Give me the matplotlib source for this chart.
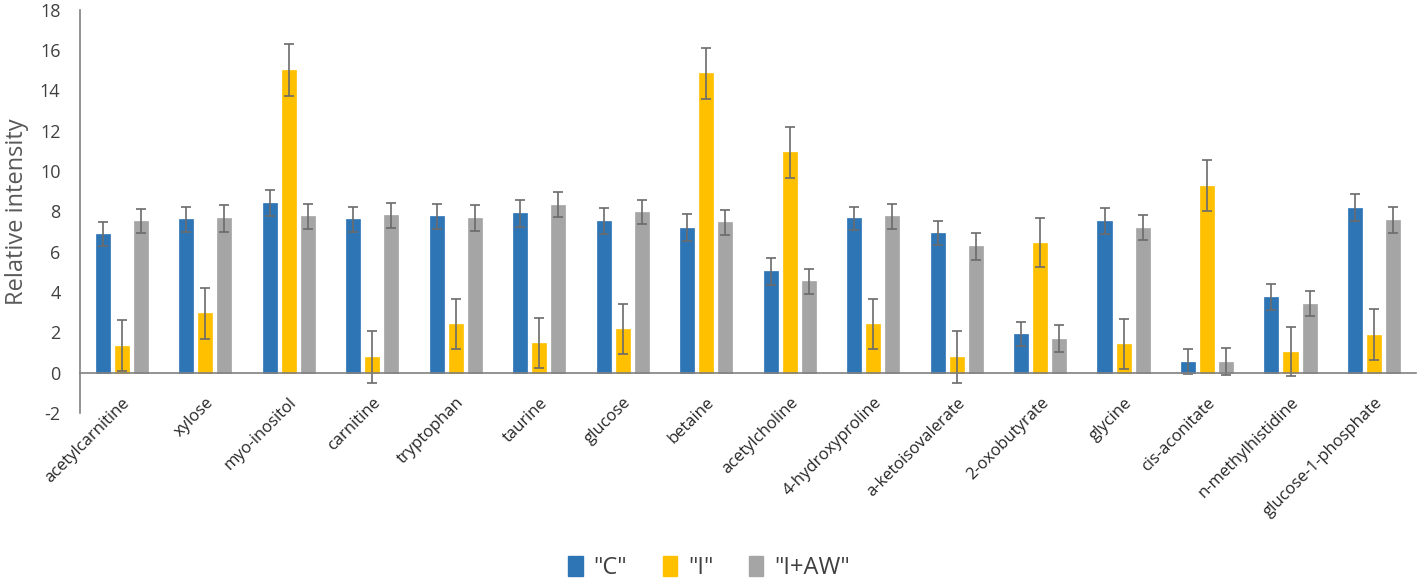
import matplotlib.pyplot as plt
from matplotlib.patches import Patch
from matplotlib.transforms import ScaledTranslation
import numpy as np

plt.rcParams['font.family'] = ['Open Sans', 'DejaVu Sans']
plt.rcParams['axes.unicode_minus'] = False

metabolites = ["acetylcarnitine", "xylose", "myo-inositol", "carnitine", "tryptophan",
               "taurine", "glucose", "betaine", "acetylcholine", "4-hydroxyproline",
               "a-ketoisovalerate", "2-oxobutyrate", "glycine", "cis-aconitate",
               "n-methylhistidine", "glucose-1-phosphate"]

c_vals = [6.89, 7.60, 8.41, 7.60, 7.75, 7.91, 7.53, 7.20, 5.02, 7.65, 6.93, 1.91, 7.53, 0.55, 3.77, 8.18]
c_err = [0.60, 0.60, 0.65, 0.60, 0.60, 0.66, 0.65, 0.66, 0.67, 0.58, 0.60, 0.60, 0.65, 0.60, 0.65, 0.66]

i_vals = [1.34, 2.95, 15.02, 0.77, 2.41, 1.48, 2.17, 14.86, 10.93, 2.41, 0.77, 6.45, 1.43, 9.27, 1.04, 1.88]
i_err = [1.28, 1.26, 1.30, 1.30, 1.25, 1.23, 1.25, 1.26, 1.26, 1.25, 1.30, 1.23, 1.23, 1.26, 1.23, 1.27]

iaw_vals = [7.53, 7.65, 7.75, 7.81, 7.68, 8.34, 7.98, 7.45, 4.53, 7.75, 6.27, 1.68, 7.20, 0.55, 3.43, 7.58]
iaw_err = [0.60, 0.65, 0.60, 0.62, 0.63, 0.62, 0.60, 0.63, 0.62, 0.60, 0.68, 0.66, 0.60, 0.65, 0.60, 0.65]

series = [('"C"', c_vals, c_err, '#2E75B6'),
          ('"I"', i_vals, i_err, '#FFC000'),
          ('"I+AW"', iaw_vals, iaw_err, '#A5A5A5')]

fig = plt.figure(figsize=(14.18, 5.8), dpi=100)
ax = fig.add_axes([0.0564, 0.288, 0.942, 0.695])

x = np.arange(len(metabolites))
step = 0.228
width = 0.168
for k, (name, vals, err, col) in enumerate(series):
    ax.bar(x + (k - 1) * step, vals, width, color=col, edgecolor=col, linewidth=0.5,
           yerr=err, ecolor='#6b6b6b', capsize=3.5,
           error_kw=dict(elinewidth=1.2, capthick=1.2), zorder=2)

ax.set_xlim(-0.5, len(metabolites) - 0.5)
ax.set_ylim(-2, 18)
ax.set_yticks(np.arange(-2, 19, 2))
ax.tick_params(axis='y', length=0, labelsize=13, labelcolor='#404040', pad=14)

ax.spines['top'].set_visible(False)
ax.spines['right'].set_visible(False)
ax.spines['bottom'].set_position(('data', 0))
ax.spines['bottom'].set_color('#808080')
ax.spines['bottom'].set_linewidth(1.2)
ax.spines['left'].set_color('#808080')
ax.spines['left'].set_linewidth(1.2)

ax.set_xticks(x)
ax.set_xticklabels(metabolites, rotation=45, ha='right', va='center',
                   rotation_mode='anchor', fontsize=12, color='#262626')
ax.tick_params(axis='x', length=0, pad=20)
shift = ScaledTranslation(6 / 100, 0, fig.dpi_scale_trans)
for lbl in ax.get_xticklabels():
    lbl.set_transform(lbl.get_transform() + shift)

ax.set_ylabel("Relative intensity", fontsize=17, color='#595959', labelpad=8)

handles = [Patch(facecolor=s[3], edgecolor=s[3]) for s in series]
fig.legend(handles, [s[0] for s in series], loc='center', bbox_to_anchor=(0.5, 0.02),
           ncol=3, frameon=False, fontsize=17, handlelength=0.62, handleheight=0.9,
           handletextpad=0.45, columnspacing=1.5, labelcolor='#404040')

fig.savefig("out.png", dpi=100)
